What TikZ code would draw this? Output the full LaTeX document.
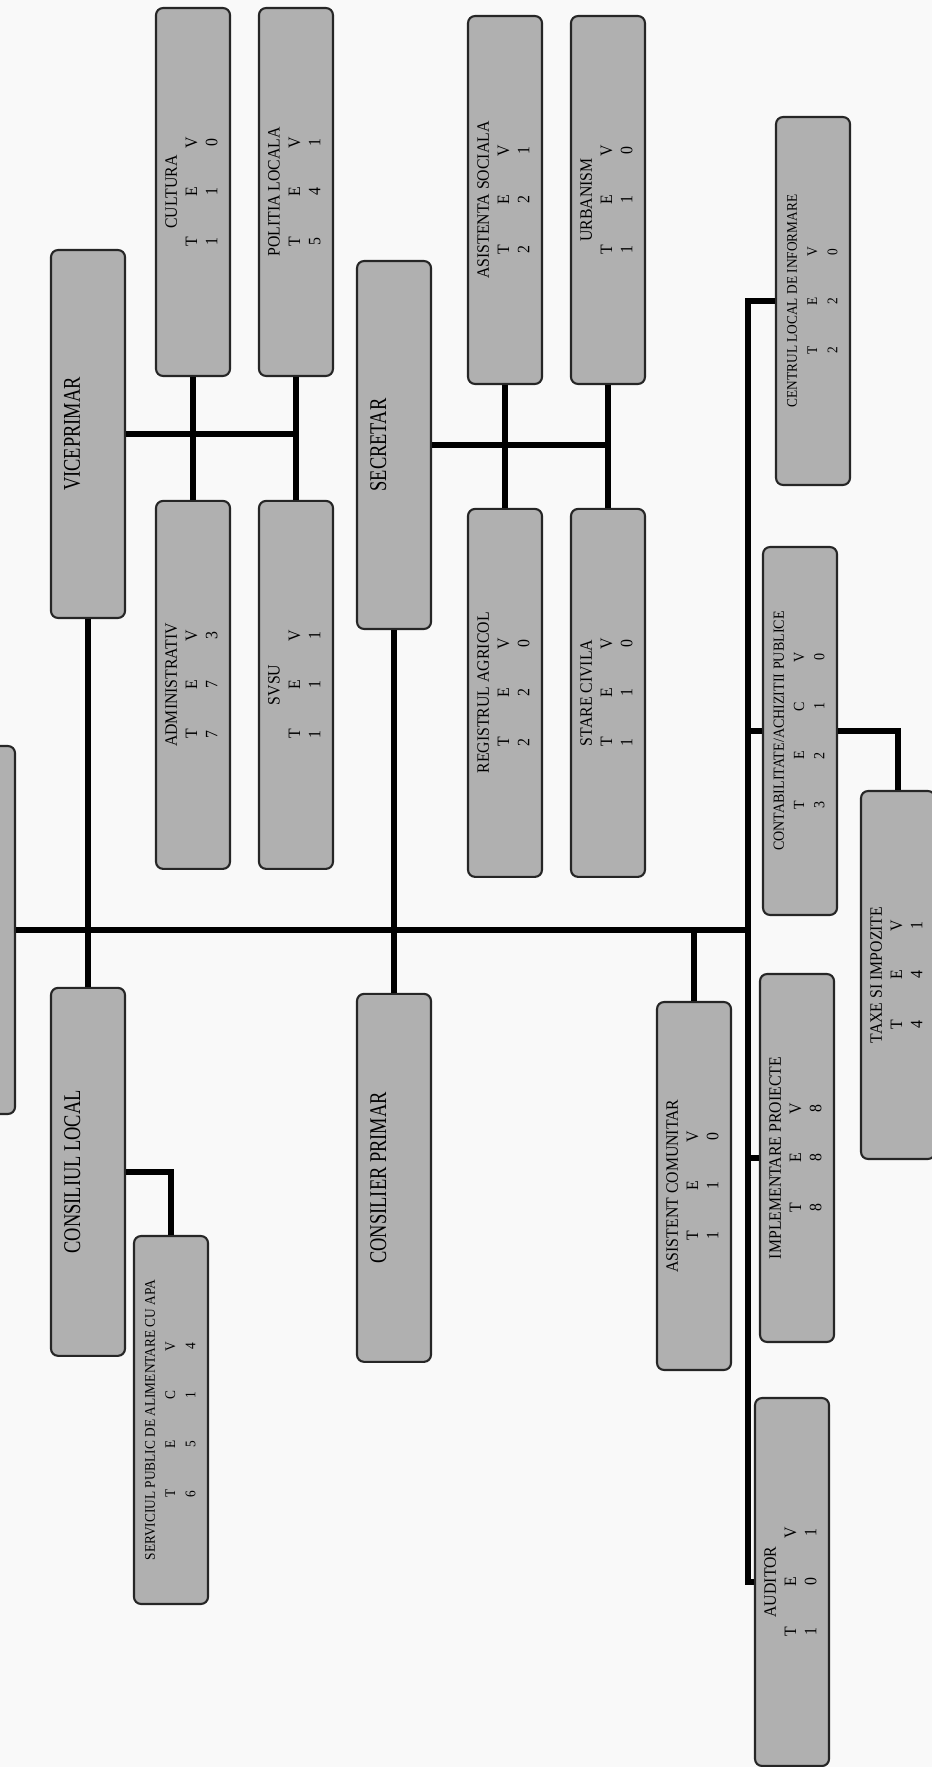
\documentclass[tikz,border=0pt]{standalone}
\usepackage{fontspec}
\setmainfont{Liberation Serif}
\usepackage{graphicx}
\definecolor{boxgray}{RGB}{176,176,176}
\definecolor{paper}{RGB}{249,249,249}
\newcommand{\tevcell}[1]{\makebox[28pt]{#1}}
\newcommand{\trio}[3]{\tevcell{#1}\tevcell{#2}\tevcell{#3}}
\newcommand{\quartet}[4]{\tevcell{#1}\tevcell{#2}\tevcell{#3}\tevcell{#4}}
\newcommand{\dept}[3]{\rotatebox{90}{\scalebox{1}[1.1]{\begin{tabular}{@{}c@{}}#1\\#2\\#3\end{tabular}}}}
\newcommand{\headtxt}[1]{\rotatebox{90}{\raisebox{9pt}[\height][\depth]{\scalebox{1}[1.3]{#1}}}}
\begin{document}
\begin{tikzpicture}[x=0.02cm, y=-0.02cm, node distance=9.86cm,
        box/.style={draw=black!85, line width=1.2pt, fill=boxgray, rounded corners=4pt,
            minimum width=1.48cm, minimum height=7.36cm, inner sep=0pt},
        unit/.style={box, font=\fontsize{9pt}{10.5pt}\selectfont},
        lead/.style={box, font=\fontsize{10.5pt}{12pt}\selectfont},
        link/.style={line width=3.2pt}]
        \useasboundingbox (0,0) rectangle (932,1767);
        \fill[paper] (0,0) rectangle (932,1767);

        \node [lead]                                    (primar)        at (-22,930) {};
        \node [lead]                                    (viceprimar)    at (88,434)  {\headtxt{VICEPRIMAR}};
        \node [lead, below of= viceprimar, node distance = 14.76cm] (consiliu) {\headtxt{CONSILIUL LOCAL}};
        \node [unit, font=\fontsize{7.6pt}{10.5pt}\selectfont] (serviciu) at (171,1420) {\dept{SERVICIUL PUBLIC DE ALIMENTARE CU APA}{\quartet TECV}{\quartet 6514}};
        \node [unit]                                    (cultura)       at (193,192) {\dept{CULTURA}{\trio TEV}{\trio 110}};
        \node [unit, below of= cultura]                 (administrativ) {\dept{ADMINISTRATIV}{\trio TEV}{\trio 773}};
        \node [unit, right of= cultura, node distance = 2.06cm] (politia) {\dept{POLITIA LOCALA}{\trio TEV}{\trio 541}};
        \node [unit, below of= politia]                 (svsu)          {\dept{SVSU}{\trio TEV}{\trio 111}};
        \node [lead]                                    (secretar)      at (394,445) {\headtxt{SECRETAR}};
        \node [lead, below of= secretar, node distance = 14.66cm] (consilier) {\headtxt{CONSILIER PRIMAR}};
        \node [unit]                                    (asistsoc)      at (505,200) {\dept{ASISTENTA SOCIALA}{\trio TEV}{\trio 221}};
        \node [unit, below of= asistsoc]                (registru)      {\dept{REGISTRUL AGRICOL}{\trio TEV}{\trio 220}};
        \node [unit, right of= asistsoc, node distance = 2.06cm] (urbanism) {\dept{URBANISM}{\trio TEV}{\trio 110}};
        \node [unit, below of= urbanism]                (starecivila)   {\dept{STARE CIVILA}{\trio TEV}{\trio 110}};
        \node [unit, font=\fontsize{7.6pt}{10.5pt}\selectfont] (centru) at (813,301) {\dept{CENTRUL LOCAL DE INFORMARE}{\trio TEV}{\trio 220}};
        \node [unit, font=\fontsize{8pt}{10.5pt}\selectfont] (contab) at (800,731) {\dept{CONTABILITATE/ACHIZITII PUBLICE}{\quartet TECV}{\quartet 3210}};
        \node [unit]                                    (taxe)          at (898,975) {\dept{TAXE SI IMPOZITE}{\trio TEV}{\trio 441}};
        \node [unit]                                    (implem)        at (797,1158) {\dept{IMPLEMENTARE PROIECTE}{\trio TEV}{\trio 888}};
        \node [unit]                                    (asistcom)      at (694,1186) {\dept{ASISTENT COMUNITAR}{\trio TEV}{\trio 110}};
        \node [unit]                                    (auditor)       at (792,1582) {\dept{AUDITOR}{\trio TEV}{\trio 101}};
        \coordinate (trunk) at (748,301);

        \draw [link] (primar.east) -- (primar.east -| trunk);
        \draw [link] (viceprimar) -- (consiliu);
        \draw [link] (secretar) -- (consilier);
        \draw [link] (viceprimar.east) -- (viceprimar.east -| politia);
        \draw [link] (cultura) -- (administrativ);
        \draw [link] (politia) -- (svsu);
        \draw [link] (secretar.east) -- (secretar.east -| urbanism);
        \draw [link] (asistsoc) -- (registru);
        \draw [link] (urbanism) -- (starecivila);
        \draw [link] (consiliu.east) -| (serviciu.north);
        \draw [link] (centru.west) -- (trunk) |- (auditor.west);
        \draw [link] (contab.west -| trunk) -- (contab.west);
        \draw [link] (contab.east) -| (taxe.north);
        \draw [link] (implem.west -| trunk) -- (implem.west);
        \draw [link] (asistcom.north |- primar.east) -- (asistcom.north);
    \end{tikzpicture}
\end{document}
